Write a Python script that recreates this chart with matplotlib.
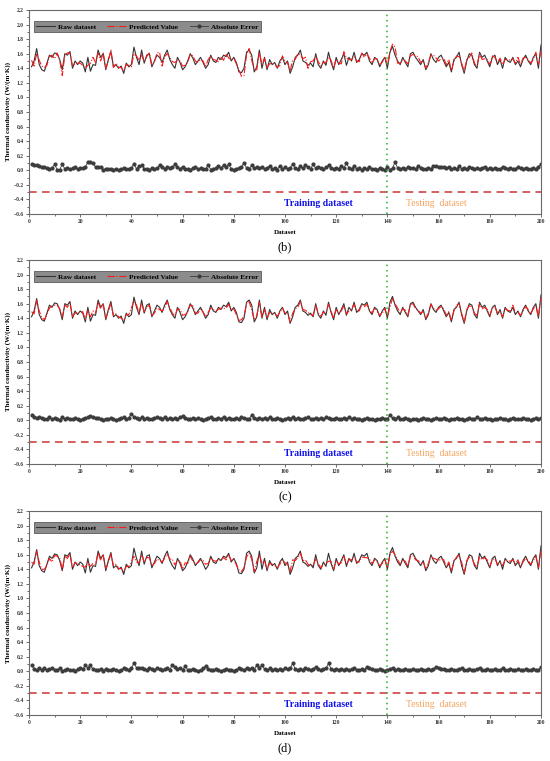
"""Raw vs predicted thermal conductivity, three model panels (b)(c)(d)."""

import matplotlib

matplotlib.use("Agg")
import matplotlib.pyplot as plt  # noqa: E402
from matplotlib.ticker import MultipleLocator  # noqa: E402

plt.rcParams["font.family"] = ["Liberation Serif", "DejaVu Serif"]

# 样本序号 1..200
dataset_idx = list(range(1, 201))

raw_dataset = [
    1.42, 1.50, 1.67, 1.45, 1.38, 1.36, 1.47, 1.58, 1.55, 1.61,
    1.60, 1.52, 1.38, 1.60, 1.58, 1.63, 1.40, 1.50, 1.45, 1.50,
    1.47, 1.35, 1.55, 1.36, 1.45, 1.44, 1.65, 1.55, 1.60, 1.38,
    1.52, 1.63, 1.42, 1.45, 1.40, 1.43, 1.33, 1.47, 1.42, 1.45,
    1.69, 1.55, 1.45, 1.65, 1.47, 1.58, 1.60, 1.42, 1.50, 1.58,
    1.55, 1.48, 1.58, 1.65, 1.52, 1.45, 1.40, 1.55, 1.48, 1.38,
    1.42, 1.50, 1.60, 1.54, 1.45, 1.50, 1.55, 1.48, 1.40, 1.45,
    1.58, 1.50, 1.48, 1.55, 1.52, 1.58, 1.56, 1.62, 1.50, 1.55,
    1.48, 1.35, 1.34, 1.40, 1.62, 1.65, 1.58, 1.35, 1.42, 1.65,
    1.40, 1.55, 1.38, 1.52, 1.45, 1.48, 1.40, 1.50, 1.55, 1.45,
    1.50, 1.33, 1.42, 1.55, 1.58, 1.65, 1.50, 1.48, 1.44, 1.47,
    1.42, 1.60, 1.45, 1.40, 1.50, 1.44, 1.62, 1.48, 1.38, 1.55,
    1.45, 1.52, 1.60, 1.44, 1.55, 1.50, 1.62, 1.48, 1.52, 1.60,
    1.58, 1.62, 1.50, 1.45, 1.55, 1.52, 1.42, 1.50, 1.55, 1.40,
    1.62, 1.70, 1.58, 1.50, 1.45, 1.55, 1.48, 1.42, 1.60, 1.62,
    1.55, 1.50, 1.45, 1.52, 1.38, 1.45, 1.60, 1.52, 1.48, 1.55,
    1.58, 1.50, 1.42, 1.48, 1.35, 1.52, 1.55, 1.62, 1.45, 1.33,
    1.50, 1.60, 1.58, 1.45, 1.40, 1.62, 1.55, 1.58, 1.50, 1.42,
    1.55, 1.58, 1.45, 1.52, 1.40, 1.55, 1.50, 1.48, 1.55, 1.45,
    1.50, 1.42, 1.52, 1.58, 1.50, 1.45, 1.55, 1.60, 1.40, 1.72,
]

pred_b = [
    1.51, 1.43, 1.60, 1.51, 1.43, 1.41, 1.44, 1.56, 1.58, 1.53,
    1.61, 1.51, 1.30, 1.58, 1.61, 1.61, 1.43, 1.46, 1.47, 1.47,
    1.44, 1.40, 1.44, 1.47, 1.55, 1.48, 1.61, 1.50, 1.61, 1.40,
    1.50, 1.65, 1.41, 1.47, 1.41, 1.41, 1.36, 1.45, 1.44, 1.42,
    1.60, 1.57, 1.51, 1.58, 1.49, 1.56, 1.61, 1.45, 1.48, 1.61,
    1.62, 1.43, 1.56, 1.60, 1.55, 1.49, 1.48, 1.51, 1.50, 1.43,
    1.44, 1.48, 1.59, 1.57, 1.50, 1.48, 1.52, 1.50, 1.42, 1.52,
    1.57, 1.52, 1.51, 1.49, 1.55, 1.51, 1.60, 1.54, 1.52, 1.54,
    1.46, 1.38, 1.29, 1.30, 1.59, 1.67, 1.51, 1.38, 1.38, 1.62,
    1.45, 1.53, 1.41, 1.46, 1.47, 1.45, 1.41, 1.44, 1.57, 1.49,
    1.48, 1.36, 1.51, 1.52, 1.60, 1.59, 1.53, 1.55, 1.40, 1.49,
    1.50, 1.57, 1.49, 1.43, 1.48, 1.48, 1.55, 1.51, 1.40, 1.52,
    1.47, 1.46, 1.63, 1.54, 1.52, 1.52, 1.56, 1.50, 1.49, 1.61,
    1.55, 1.60, 1.54, 1.47, 1.53, 1.53, 1.45, 1.48, 1.56, 1.44,
    1.63, 1.73, 1.69, 1.47, 1.47, 1.52, 1.50, 1.46, 1.57, 1.59,
    1.57, 1.56, 1.48, 1.50, 1.40, 1.48, 1.58, 1.58, 1.54, 1.50,
    1.53, 1.54, 1.45, 1.52, 1.37, 1.49, 1.57, 1.56, 1.47, 1.36,
    1.52, 1.55, 1.61, 1.47, 1.43, 1.60, 1.52, 1.53, 1.52, 1.45,
    1.57, 1.55, 1.47, 1.54, 1.45, 1.52, 1.52, 1.51, 1.53, 1.47,
    1.55, 1.45, 1.54, 1.55, 1.52, 1.47, 1.52, 1.62, 1.45, 1.64,
]

err_b = [
    0.09, 0.07, 0.07, 0.06, 0.05, 0.05, 0.03, 0.02, 0.03, 0.08,
    0.01, 0.01, 0.08, 0.02, 0.03, 0.02, 0.03, 0.04, 0.02, 0.03,
    0.03, 0.05, 0.11, 0.11, 0.10, 0.04, 0.04, 0.05, 0.01, 0.02,
    0.02, 0.02, 0.01, 0.02, 0.01, 0.02, 0.03, 0.02, 0.02, 0.03,
    0.09, 0.02, 0.06, 0.07, 0.02, 0.02, 0.01, 0.03, 0.02, 0.03,
    0.07, 0.05, 0.02, 0.05, 0.03, 0.04, 0.08, 0.04, 0.02, 0.05,
    0.02, 0.02, 0.01, 0.03, 0.05, 0.02, 0.03, 0.02, 0.02, 0.07,
    0.01, 0.02, 0.03, 0.06, 0.03, 0.07, 0.04, 0.08, 0.02, 0.01,
    0.02, 0.03, 0.05, 0.10, 0.03, 0.02, 0.07, 0.03, 0.04, 0.03,
    0.05, 0.02, 0.03, 0.06, 0.02, 0.03, 0.01, 0.06, 0.02, 0.04,
    0.02, 0.03, 0.09, 0.03, 0.02, 0.06, 0.03, 0.07, 0.04, 0.02,
    0.08, 0.03, 0.04, 0.03, 0.02, 0.04, 0.07, 0.03, 0.02, 0.03,
    0.02, 0.06, 0.03, 0.10, 0.03, 0.02, 0.06, 0.02, 0.03, 0.01,
    0.03, 0.02, 0.04, 0.02, 0.02, 0.01, 0.03, 0.02, 0.01, 0.04,
    0.01, 0.03, 0.11, 0.03, 0.02, 0.03, 0.02, 0.04, 0.03, 0.03,
    0.02, 0.06, 0.03, 0.02, 0.02, 0.03, 0.02, 0.06, 0.06, 0.05,
    0.05, 0.04, 0.03, 0.04, 0.02, 0.03, 0.02, 0.06, 0.02, 0.03,
    0.02, 0.05, 0.03, 0.02, 0.03, 0.02, 0.03, 0.05, 0.02, 0.03,
    0.02, 0.03, 0.02, 0.02, 0.05, 0.03, 0.02, 0.03, 0.02, 0.02,
    0.05, 0.03, 0.02, 0.03, 0.02, 0.02, 0.03, 0.02, 0.05, 0.08,
]

pred_c = [
    1.49, 1.46, 1.64, 1.50, 1.41, 1.38, 1.45, 1.54, 1.57, 1.58,
    1.58, 1.53, 1.42, 1.58, 1.55, 1.61, 1.42, 1.47, 1.47, 1.49,
    1.49, 1.38, 1.51, 1.42, 1.50, 1.47, 1.62, 1.53, 1.59, 1.40,
    1.50, 1.60, 1.44, 1.46, 1.42, 1.40, 1.37, 1.45, 1.45, 1.54,
    1.64, 1.58, 1.47, 1.61, 1.49, 1.55, 1.58, 1.44, 1.47, 1.54,
    1.52, 1.50, 1.54, 1.63, 1.55, 1.47, 1.43, 1.53, 1.52, 1.44,
    1.45, 1.48, 1.58, 1.57, 1.47, 1.47, 1.53, 1.49, 1.42, 1.48,
    1.54, 1.52, 1.50, 1.52, 1.54, 1.53, 1.54, 1.59, 1.52, 1.53,
    1.45, 1.37, 1.38, 1.43, 1.60, 1.63, 1.51, 1.38, 1.44, 1.62,
    1.42, 1.52, 1.40, 1.48, 1.47, 1.46, 1.43, 1.48, 1.54, 1.47,
    1.47, 1.35, 1.47, 1.53, 1.55, 1.63, 1.52, 1.51, 1.48, 1.45,
    1.44, 1.57, 1.47, 1.43, 1.48, 1.48, 1.59, 1.50, 1.40, 1.52,
    1.47, 1.50, 1.57, 1.46, 1.50, 1.52, 1.59, 1.50, 1.50, 1.59,
    1.56, 1.59, 1.52, 1.47, 1.54, 1.50, 1.44, 1.47, 1.53, 1.42,
    1.55, 1.67, 1.60, 1.54, 1.47, 1.53, 1.51, 1.44, 1.59, 1.60,
    1.53, 1.51, 1.47, 1.49, 1.40, 1.47, 1.59, 1.54, 1.51, 1.53,
    1.56, 1.53, 1.44, 1.49, 1.37, 1.50, 1.58, 1.60, 1.47, 1.34,
    1.52, 1.57, 1.56, 1.47, 1.44, 1.60, 1.53, 1.55, 1.52, 1.44,
    1.54, 1.56, 1.47, 1.49, 1.42, 1.53, 1.51, 1.50, 1.58, 1.47,
    1.48, 1.44, 1.49, 1.56, 1.52, 1.46, 1.53, 1.57, 1.42, 1.69,
]

err_c = [
    0.07, 0.04, 0.03, 0.05, 0.03, 0.02, 0.02, 0.04, 0.02, 0.03,
    0.02, 0.01, 0.04, 0.02, 0.03, 0.02, 0.02, 0.03, 0.02, 0.01,
    0.02, 0.03, 0.04, 0.06, 0.05, 0.03, 0.03, 0.02, 0.01, 0.02,
    0.02, 0.03, 0.02, 0.01, 0.02, 0.03, 0.04, 0.02, 0.03, 0.09,
    0.05, 0.03, 0.02, 0.04, 0.02, 0.03, 0.02, 0.02, 0.03, 0.04,
    0.03, 0.02, 0.04, 0.02, 0.03, 0.02, 0.03, 0.02, 0.04, 0.06,
    0.03, 0.02, 0.02, 0.03, 0.02, 0.03, 0.02, 0.01, 0.02, 0.03,
    0.04, 0.02, 0.02, 0.03, 0.02, 0.05, 0.02, 0.03, 0.02, 0.02,
    0.03, 0.02, 0.04, 0.03, 0.02, 0.02, 0.07, 0.03, 0.02, 0.03,
    0.02, 0.03, 0.02, 0.04, 0.02, 0.02, 0.03, 0.02, 0.01, 0.02,
    0.03, 0.02, 0.05, 0.02, 0.03, 0.02, 0.02, 0.03, 0.04, 0.02,
    0.02, 0.03, 0.02, 0.03, 0.02, 0.04, 0.03, 0.02, 0.02, 0.03,
    0.02, 0.02, 0.03, 0.02, 0.05, 0.02, 0.03, 0.02, 0.02, 0.01,
    0.02, 0.03, 0.02, 0.02, 0.01, 0.02, 0.02, 0.03, 0.02, 0.02,
    0.07, 0.03, 0.02, 0.04, 0.02, 0.02, 0.03, 0.02, 0.01, 0.02,
    0.02, 0.01, 0.02, 0.03, 0.02, 0.02, 0.01, 0.02, 0.03, 0.02,
    0.02, 0.03, 0.02, 0.01, 0.02, 0.02, 0.03, 0.02, 0.02, 0.01,
    0.02, 0.03, 0.02, 0.02, 0.04, 0.02, 0.02, 0.03, 0.02, 0.02,
    0.01, 0.02, 0.02, 0.03, 0.02, 0.02, 0.01, 0.02, 0.03, 0.02,
    0.02, 0.02, 0.03, 0.02, 0.02, 0.01, 0.02, 0.03, 0.02, 0.03,
]

pred_d = [
    1.50, 1.47, 1.65, 1.50, 1.40, 1.40, 1.45, 1.55, 1.50, 1.59,
    1.58, 1.56, 1.39, 1.58, 1.55, 1.61, 1.42, 1.49, 1.48, 1.46,
    1.44, 1.43, 1.50, 1.44, 1.48, 1.46, 1.63, 1.52, 1.59, 1.41,
    1.50, 1.61, 1.45, 1.47, 1.41, 1.41, 1.37, 1.44, 1.44, 1.50,
    1.58, 1.50, 1.49, 1.60, 1.50, 1.56, 1.56, 1.45, 1.48, 1.54,
    1.52, 1.50, 1.55, 1.61, 1.54, 1.54, 1.46, 1.52, 1.52, 1.40,
    1.49, 1.48, 1.58, 1.51, 1.47, 1.49, 1.53, 1.52, 1.47, 1.48,
    1.56, 1.52, 1.51, 1.53, 1.53, 1.56, 1.53, 1.60, 1.52, 1.54,
    1.46, 1.39, 1.37, 1.42, 1.57, 1.62, 1.54, 1.37, 1.51, 1.60,
    1.48, 1.52, 1.40, 1.48, 1.47, 1.45, 1.42, 1.47, 1.53, 1.49,
    1.47, 1.37, 1.53, 1.52, 1.56, 1.62, 1.52, 1.53, 1.47, 1.45,
    1.45, 1.54, 1.48, 1.42, 1.47, 1.48, 1.51, 1.51, 1.40, 1.52,
    1.47, 1.49, 1.58, 1.47, 1.53, 1.53, 1.57, 1.50, 1.50, 1.57,
    1.56, 1.56, 1.54, 1.48, 1.53, 1.50, 1.45, 1.48, 1.54, 1.42,
    1.59, 1.65, 1.60, 1.53, 1.47, 1.53, 1.51, 1.44, 1.58, 1.59,
    1.53, 1.52, 1.48, 1.50, 1.40, 1.48, 1.58, 1.55, 1.54, 1.51,
    1.55, 1.53, 1.44, 1.50, 1.38, 1.50, 1.57, 1.59, 1.50, 1.35,
    1.52, 1.57, 1.56, 1.47, 1.43, 1.57, 1.53, 1.56, 1.53, 1.44,
    1.53, 1.55, 1.47, 1.50, 1.45, 1.53, 1.52, 1.51, 1.53, 1.47,
    1.53, 1.44, 1.50, 1.55, 1.52, 1.47, 1.52, 1.58, 1.42, 1.66,
]

err_d = [
    0.08, 0.03, 0.02, 0.05, 0.02, 0.04, 0.02, 0.03, 0.05, 0.02,
    0.02, 0.04, 0.01, 0.02, 0.03, 0.02, 0.02, 0.01, 0.03, 0.04,
    0.03, 0.08, 0.05, 0.08, 0.03, 0.02, 0.02, 0.03, 0.01, 0.03,
    0.02, 0.02, 0.03, 0.02, 0.01, 0.02, 0.04, 0.03, 0.02, 0.05,
    0.11, 0.05, 0.04, 0.05, 0.03, 0.02, 0.04, 0.03, 0.02, 0.04,
    0.03, 0.02, 0.03, 0.04, 0.02, 0.09, 0.06, 0.03, 0.04, 0.02,
    0.07, 0.02, 0.02, 0.03, 0.02, 0.01, 0.02, 0.04, 0.07, 0.03,
    0.02, 0.02, 0.03, 0.02, 0.01, 0.02, 0.03, 0.02, 0.02, 0.01,
    0.02, 0.04, 0.03, 0.02, 0.05, 0.03, 0.04, 0.02, 0.09, 0.05,
    0.08, 0.03, 0.02, 0.04, 0.02, 0.03, 0.02, 0.03, 0.02, 0.04,
    0.03, 0.04, 0.11, 0.03, 0.02, 0.03, 0.02, 0.05, 0.03, 0.02,
    0.03, 0.06, 0.03, 0.02, 0.03, 0.04, 0.11, 0.03, 0.02, 0.03,
    0.02, 0.03, 0.02, 0.03, 0.02, 0.03, 0.05, 0.02, 0.02, 0.03,
    0.02, 0.06, 0.04, 0.03, 0.02, 0.02, 0.03, 0.02, 0.01, 0.02,
    0.03, 0.05, 0.02, 0.03, 0.02, 0.02, 0.03, 0.02, 0.02, 0.03,
    0.02, 0.02, 0.03, 0.02, 0.02, 0.03, 0.02, 0.03, 0.06, 0.04,
    0.03, 0.03, 0.02, 0.02, 0.03, 0.02, 0.02, 0.03, 0.05, 0.02,
    0.02, 0.03, 0.02, 0.02, 0.03, 0.05, 0.02, 0.02, 0.03, 0.02,
    0.02, 0.03, 0.02, 0.02, 0.05, 0.02, 0.02, 0.03, 0.02, 0.02,
    0.03, 0.02, 0.02, 0.03, 0.02, 0.02, 0.03, 0.02, 0.02, 0.06,
]

panel_tags = ["(b)", "(c)", "(d)"]
split_at = 140          # 训练/测试分界
ref_line = -0.3         # 红色虚线水平参考

C_RAW = "#333333"
C_PRED = "#ff1a1a"
C_ERR = "#3c3c3c"
C_SPLIT = "#22b022"
C_REF = "#cc3333"
C_TRAIN = "#1010ee"
C_TEST = "#f4a460"

# 三个子图的位置（figure 分数，对照原图像素）
PANEL_POS = [
    [0.0527, 0.7188, 0.9309, 0.2681],
    [0.0527, 0.3903, 0.9309, 0.2681],
    [0.0527, 0.0604, 0.9309, 0.2681],
]

fig = plt.figure(figsize=(5.5, 7.61), dpi=100)

for pos, tag, pred, err in zip(PANEL_POS, panel_tags,
                                [pred_b, pred_c, pred_d], [err_b, err_c, err_d]):
    ax = fig.add_axes(pos)
    ax.plot(dataset_idx, raw_dataset, "-", color=C_RAW, linewidth=0.8, label="Raw dataset")
    ax.plot(dataset_idx, pred, "-.", color=C_PRED, linewidth=0.8, label="Predicted Value")
    ax.plot(dataset_idx, err, "-o", color=C_ERR, linewidth=0.6, markersize=2.0,
            label="Absolute Error")
    ax.axhline(ref_line, color=C_REF, linestyle=(0, (5, 3.5)), linewidth=1.1)
    ax.axvline(split_at, color=C_SPLIT, linestyle=(0, (1, 2.5)), linewidth=1.1)

    ax.text(113, -0.455, "Training dataset", color=C_TRAIN, fontsize=7,
            fontweight="bold", ha="center", va="center")
    ax.text(159, -0.455, "Testing  dataset", color=C_TEST, fontsize=7,
            ha="center", va="center")

    ax.set_xlim(0, 200)
    ax.set_ylim(-0.6, 2.2)
    ax.xaxis.set_major_locator(MultipleLocator(20))
    ax.xaxis.set_minor_locator(MultipleLocator(10))
    ax.yaxis.set_major_locator(MultipleLocator(0.2))
    ax.yaxis.set_minor_locator(MultipleLocator(0.1))
    ax.tick_params(which="both", direction="out", labelsize=4, width=0.5, colors="#333333")
    ax.tick_params(which="major", length=2.2, pad=1.5)
    ax.tick_params(which="minor", length=1.2)
    for lab in ax.get_xticklabels() + ax.get_yticklabels():
        lab.set_fontweight("bold")
    for sp in ax.spines.values():
        sp.set_color("#6a6a6a")
        sp.set_linewidth(0.8)

    ax.set_xlabel("Dataset", fontsize=5, fontweight="bold", labelpad=4)
    ax.set_ylabel("Thermal conductivity (W/(m·K))", fontsize=5, fontweight="bold", labelpad=2)

    leg = ax.legend(loc="upper left", bbox_to_anchor=(0.009, 0.945), ncol=3,
                    frameon=True, fancybox=False, handlelength=2.6, columnspacing=1.6,
                    borderpad=0.35, handletextpad=0.4, borderaxespad=0.0,
                    prop={"weight": "bold", "size": 5.2})
    leg.get_frame().set_facecolor("#8c8c8c")
    leg.get_frame().set_edgecolor("#5a5a5a")
    leg.get_frame().set_alpha(1.0)
    leg.get_frame().set_linewidth(0.6)

    ax.text(0.5, -0.165, tag, transform=ax.transAxes, fontsize=9, ha="center", va="center")

fig.savefig("out.png", dpi=100)
